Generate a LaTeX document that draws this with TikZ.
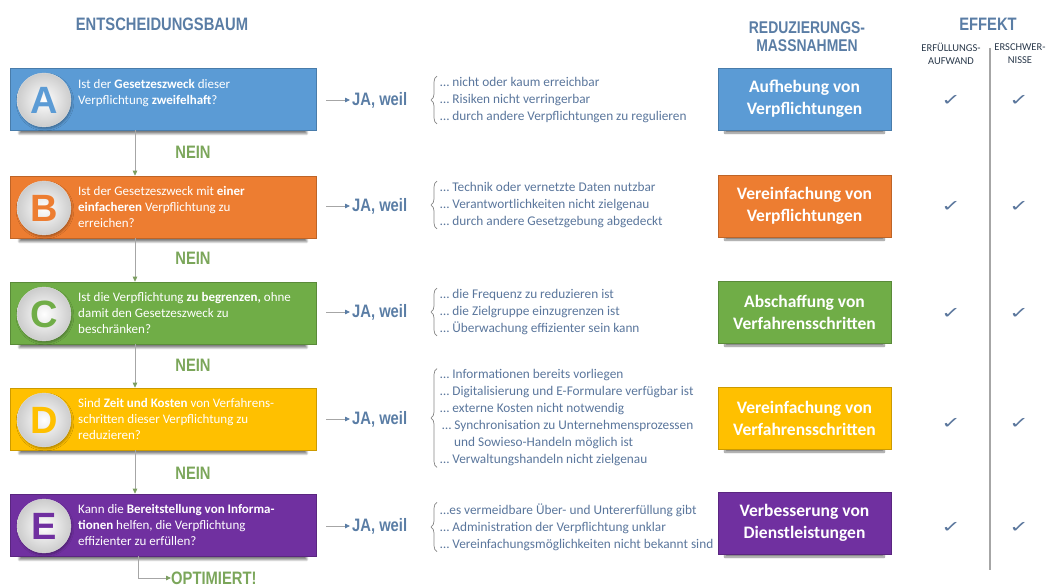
\documentclass[tikz,border=0pt]{standalone}
\usepackage{fontspec}
\setmainfont{Carlito}
\newfontfamily\cond[FakeStretch=0.82]{Liberation Sans}
\newfontfamily\letf{Liberation Sans}
\newfontfamily\symf[FakeStretch=1.45]{DejaVu Sans}
\usetikzlibrary{shadows.blur,decorations.pathreplacing,arrows.meta}
\definecolor{cA}{HTML}{5B9BD5}
\definecolor{cB}{HTML}{ED7D31}
\definecolor{cC}{HTML}{70AD47}
\definecolor{cD}{HTML}{FFC000}
\definecolor{cE}{HTML}{7030A0}
\definecolor{headc}{HTML}{5A7DA5}
\definecolor{txtc}{HTML}{5A769C}
\definecolor{neinc}{HTML}{7BA65A}
\definecolor{lgrey}{HTML}{A6A6A6}
\begin{document}
\begin{tikzpicture}[x=1pt,y=-1pt,
  headtxt/.style={font=\cond\bfseries\fontsize{18}{18}\selectfont, text=headc, inner sep=0pt},
  subtxt/.style={font=\fontsize{10.5}{13}\selectfont, text=black!55!headc, align=center, inner sep=0pt},
  qbox/.style={draw=#1!80!black, line width=0.6pt, fill=#1, minimum width=306pt, minimum height=62pt, inner sep=0pt,
     blur shadow={shadow xshift=0pt, shadow yshift=-6pt, shadow scale=0.94, shadow blur steps=10, shadow opacity=50}},
  mbox/.style={draw=#1!80!black, line width=0.6pt, fill=#1, minimum width=173pt, minimum height=62pt, inner sep=0pt,
     text=white, align=center, font=\bfseries\fontsize{17.5}{22}\selectfont,
     blur shadow={shadow xshift=0pt, shadow yshift=-6pt, shadow scale=0.92, shadow blur steps=10, shadow opacity=50}},
  ball/.style={circle, minimum size=54pt, inner sep=0pt, draw=black!12, inner color=white, outer color=black!20,
     font=\letf\bfseries\fontsize{38}{38}\selectfont,
     blur shadow={shadow xshift=1pt, shadow yshift=-2pt, shadow blur steps=5, shadow opacity=30}},
  qtext/.style={anchor=north west, inner sep=0pt, text=white, align=left, font=\fontsize{13}{16}\selectfont},
  jatxt/.style={anchor=west, inner sep=2pt, font=\cond\bfseries\fontsize{18}{18}\selectfont, text=headc},
  reason/.style={anchor=west, inner sep=0pt, text=txtc, align=left, font=\fontsize{13.3}{17}\selectfont},
  neintxt/.style={font=\cond\bfseries\fontsize{18}{18}\selectfont, text=neinc, inner sep=0pt},
  chk/.style={font=\symf\fontsize{16}{16}\selectfont, text=txtc, inner sep=0pt},
  jarr/.style={draw=lgrey, line width=0.8pt, shorten <=10pt, -{Triangle[length=5pt,width=4.5pt,color=headc]}},
  darr/.style={draw=lgrey, line width=0.8pt, -{Triangle[length=5pt,width=4.5pt,color=neinc!80!gray]}},
  bracestyle/.style={draw=lgrey!80!black, line width=0.7pt, decorate, decoration={brace, amplitude=6pt}}
]
\useasboundingbox (0,0) rectangle (1052,588);

% headers
\node[headtxt] (h1) at (162,24) {ENTSCHEIDUNGSBAUM};
\node[headtxt, align=center, font=\cond\bfseries\fontsize{17}{18}\selectfont] (h2) at (807,37) {REDUZIERUNGS-\\MASSNAHMEN};
\node[headtxt] (h3) at (988,24) {EFFEKT};
\node[subtxt] (h4) at (951,54) {ERFÜLLUNGS-\\AUFWAND};
\node[subtxt] (h5) at (1020,54) {ERSCHWER-\\NISSE};
\draw[lgrey, line width=1.2pt] (990,48) -- (990,570);

% row A
\node[qbox=cA] (qA) at (163,99) {};
\node[ball, text=cA] (bA) at (44,100) {A};
\node[qtext] (tA) at (78,79) {Ist der \textbf{Gesetzeszweck} dieser\\Verpflichtung \textbf{zweifelhaft}?};
\node[jatxt] (jA) at (350,100) {JA, weil};
\node[reason] (rA) at (440,100) {… nicht oder kaum erreichbar\\… Risiken nicht verringerbar\\… durch andere Verpflichtungen zu regulieren};
\draw[bracestyle] ([xshift=-3pt,yshift=-1pt]rA.south west) -- ([xshift=-3pt,yshift=1pt]rA.north west);
\node[mbox=cA] (mA) at (804.5,99) {Aufhebung von\\Verpflichtungen};
\node[chk] (kA1) at (951,100) {✓};
\node[chk] (kA2) at (1019,100) {✓};
\draw[jarr] (qA.east |- jA) -- (jA.west);

% row B
\node[qbox=cB] (qB) at (163,207) {};
\node[ball, text=cB] (bB) at (44,208) {B};
\node[qtext] (tB) at (78,186) {Ist der Gesetzeszweck mit \textbf{einer}\\\textbf{einfacheren} Verpflichtung zu\\erreichen?};
\node[jatxt] (jB) at (350,206) {JA, weil};
\node[reason] (rB) at (440,205) {… Technik oder vernetzte Daten nutzbar\\… Verantwortlichkeiten nicht zielgenau\\… durch andere Gesetzgebung abgedeckt};
\draw[bracestyle] ([xshift=-3pt,yshift=-1pt]rB.south west) -- ([xshift=-3pt,yshift=1pt]rB.north west);
\node[mbox=cB] (mB) at (804.5,206) {Vereinfachung von\\Verpflichtungen};
\node[chk] (kB1) at (951,206) {✓};
\node[chk] (kB2) at (1019,206) {✓};
\draw[jarr] (qB.east |- jB) -- (jB.west);

% row C
\node[qbox=cC] (qC) at (163,313) {};
\node[ball, text=cC] (bC) at (44,314) {C};
\node[qtext] (tC) at (78,292) {Ist die Verpflichtung \textbf{zu begrenzen,} ohne\\damit den Gesetzeszweck zu\\beschränken?};
\node[jatxt] (jC) at (350,312) {JA, weil};
\node[reason] (rC) at (440,312) {… die Frequenz zu reduzieren ist\\… die Zielgruppe einzugrenzen ist\\… Überwachung effizienter sein kann};
\draw[bracestyle] ([xshift=-3pt,yshift=-1pt]rC.south west) -- ([xshift=-3pt,yshift=1pt]rC.north west);
\node[mbox=cC] (mC) at (804.5,312) {Abschaffung von\\Verfahrensschritten};
\node[chk] (kC1) at (951,313) {✓};
\node[chk] (kC2) at (1019,313) {✓};
\draw[jarr] (qC.east |- jC) -- (jC.west);

% row D
\node[qbox=cD] (qD) at (163,419) {};
\node[ball, text=cD] (bD) at (44,420) {D};
\node[qtext] (tD) at (78,398) {Sind \textbf{Zeit und Kosten} von Verfahrens-\\schritten dieser Verpflichtung zu\\reduzieren?};
\node[jatxt] (jD) at (350,419) {JA, weil};
\node[reason] (rD) at (440,418) {… Informationen bereits vorliegen\\… Digitalisierung und E-Formulare verfügbar ist\\… externe Kosten nicht notwendig\\\hspace*{2pt}… Synchronisation zu Unternehmensprozessen\\\hspace*{14pt}und Sowieso-Handeln möglich ist\\… Verwaltungshandeln nicht zielgenau};
\draw[bracestyle] ([xshift=-3pt,yshift=-1pt]rD.south west) -- ([xshift=-3pt,yshift=1pt]rD.north west);
\node[mbox=cD] (mD) at (804.5,418) {Vereinfachung von\\Verfahrensschritten};
\node[chk] (kD1) at (951,423) {✓};
\node[chk] (kD2) at (1019,423) {✓};
\draw[jarr] (qD.east |- jD) -- (jD.west);

% row E
\node[qbox=cE] (qE) at (163,525) {};
\node[ball, text=cE] (bE) at (44,526) {E};
\node[qtext] (tE) at (78,504) {Kann die \textbf{Bereitstellung von Informa-}\\\textbf{tionen} helfen, die Verpflichtung\\effizienter zu erfüllen?};
\node[jatxt] (jE) at (350,526) {JA, weil};
\node[reason] (rE) at (440,527) {…es vermeidbare Über- und Untererfüllung gibt\\… Administration der Verpflichtung unklar\\… Vereinfachungsmöglichkeiten nicht bekannt sind};
\draw[bracestyle] ([xshift=-3pt,yshift=-1pt]rE.south west) -- ([xshift=-3pt,yshift=1pt]rE.north west);
\node[mbox=cE] (mE) at (804.5,523) {Verbesserung von\\Dienstleistungen};
\node[chk] (kE1) at (951,527) {✓};
\node[chk] (kE2) at (1019,527) {✓};
\draw[jarr] (qE.east |- jE) -- (jE.west);

% NEIN arrows
\draw[darr] ([xshift=-28pt]qA.south) -- ([xshift=-28pt]qB.north);
\node[neintxt] (n1) at (193,152) {NEIN};
\draw[darr] ([xshift=-28pt]qB.south) -- ([xshift=-28pt]qC.north);
\node[neintxt] (n2) at (193,258) {NEIN};
\draw[darr] ([xshift=-28pt]qC.south) -- ([xshift=-28pt]qD.north);
\node[neintxt] (n3) at (193,365) {NEIN};
\draw[darr] ([xshift=-28pt]qD.south) -- ([xshift=-28pt]qE.north);
\node[neintxt] (n4) at (193,473) {NEIN};

% OPTIMIERT
\node[neintxt, anchor=west] (opt) at (171,578) {OPTIMIERT!};
\draw[darr] ([xshift=-25pt]qE.south) |- (opt.west);
\end{tikzpicture}
\end{document}
